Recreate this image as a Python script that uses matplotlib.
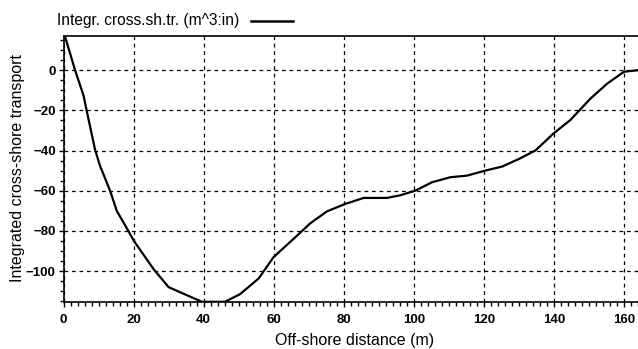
import matplotlib
matplotlib.use("Agg")
import matplotlib.pyplot as plt
from matplotlib.lines import Line2D
from matplotlib.ticker import MultipleLocator
from matplotlib.font_manager import FontProperties

distance = [0.4, 3.3, 5.7, 6.6, 9.0, 10.4, 13.3, 15.2, 18.5, 20.1, 25.7, 30.0, 35.2,
            39.5, 46.1, 50.4, 55.7, 60.0, 66.6, 70.4, 75.2, 80.4, 85.7, 92.3, 96.1,
            100.4, 105.2, 110.4, 115.2, 120.4, 125.2, 130.0, 134.7, 139.9, 144.7,
            150.4, 155.2, 160.0, 164.0]
transport = [17.0, 0.0, -12.5, -20.0, -39.5, -47.5, -60.0, -70.0, -80.0, -85.0, -99.0,
             -108.0, -112.0, -115.3, -115.3, -111.5, -103.7, -93.0, -82.5, -76.3, -70.3,
             -66.6, -63.6, -63.6, -62.3, -60.0, -55.8, -53.3, -52.5, -50.0, -48.0, -44.2,
             -40.0, -31.5, -24.8, -14.2, -6.7, -0.8, 0.0]
xticks = [0, 20, 40, 60, 80, 100, 120, 140, 160]
yticks = [0, -20, -40, -60, -80, -100]
legend_label = "Integr. cross.sh.tr. (m^3:in)"

fig = plt.figure(figsize=(6.38, 3.49), dpi=100)
ax = fig.add_axes([63.5 / 638, 1 - 302 / 349, (638 - 63.5) / 638, (302 - 36) / 349])
ax.plot(distance, transport, color="black", lw=1.6, solid_joinstyle="round")
ax.set_xlim(0, 164)
ax.set_ylim(-115.4, 17.0)
ax.set_xticks(xticks)
ax.set_yticks(yticks)
ax.xaxis.set_minor_locator(MultipleLocator(2))
ax.yaxis.set_minor_locator(MultipleLocator(5))
ax.grid(True, which="major", color="black", linestyle=(0, (3, 3)), lw=0.9)
ax.tick_params(which="major", direction="out", length=3.5, width=1, color="black", pad=2)
ax.tick_params(which="minor", direction="out", length=3, width=1, color="black")
ax.tick_params(axis="x", which="major", pad=5)
tickfp = FontProperties(family="Liberation Sans", weight="bold", size=9.5)
for lab in ax.get_xticklabels() + ax.get_yticklabels():
    lab.set_fontproperties(tickfp)
ax.spines["right"].set_visible(False)
for s in ["left", "bottom", "top"]:
    ax.spines[s].set_linewidth(1.2)
ax.set_xlabel("Off-shore distance (m)", family="Liberation Sans", size=11.5)
ax.set_ylabel("Integrated cross-shore transport", family="Liberation Sans", size=11.5)
ax.xaxis.set_label_coords((355 - 63.5) / 574.5, (302 - 333) / 266)
ax.yaxis.set_label_coords((25 - 63.5) / 574.5, (302 - 167.5) / 266)

fig.text(57 / 638, 1 - 21 / 349, legend_label, family="Liberation Sans", size=11.2,
         va="center", ha="left")
fig.add_artist(Line2D([251 / 638, 293 / 638], [1 - 21 / 349, 1 - 21 / 349],
                      color="black", lw=1.8, transform=fig.transFigure))

fig.savefig("out.png", dpi=100)
